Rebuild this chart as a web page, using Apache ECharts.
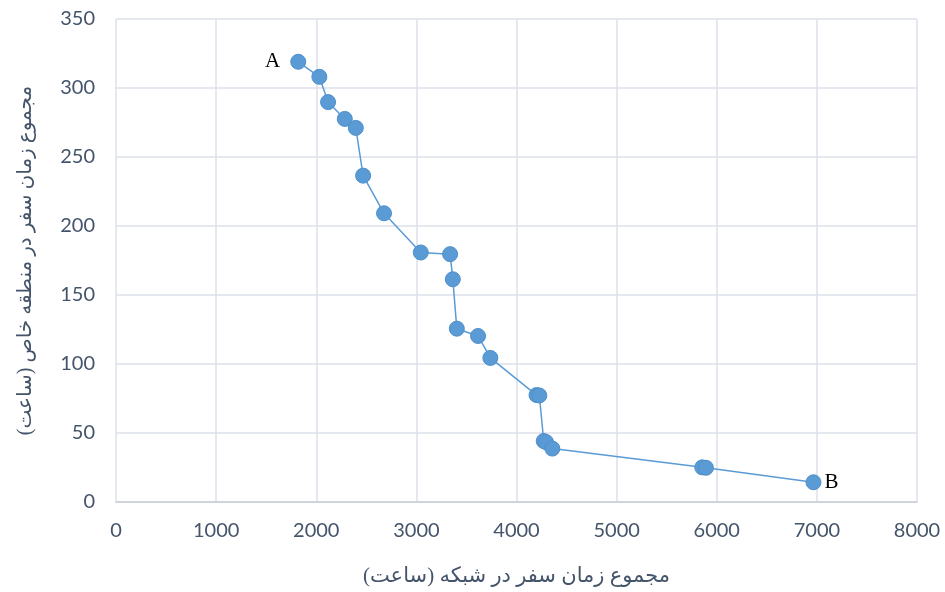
<!DOCTYPE html>
<html>
<head>
<meta charset="utf-8">
<script src="https://cdn.jsdelivr.net/npm/echarts@6/dist/echarts.min.js"></script>
<style>
html,body{margin:0;padding:0;background:#fff;}
#chart{width:945px;height:592px;}
</style>
</head>
<body>
<div id="chart"></div>
<script>
// Data
var networkTime = [1820, 2031, 2118, 2285, 2395, 2468, 2677, 3044, 3337, 3364, 3404, 3616, 3739, 4200, 4228, 4272, 4295, 4358, 5855, 5892, 6966];
var zoneTime    = [319, 308.1, 289.8, 277.6, 271.1, 236.5, 209.2, 180.8, 179.6, 161.4, 125.6, 120.3, 104.4, 77.5, 77.2, 44.2, 43.4, 38.7, 25.1, 24.8, 14.3];
var endLabels   = ['A', 'B'];
var xTitle = 'مجموع زمان سفر در شبکه (ساعت)';
var yTitle = 'مجموع زمان سفر در منطقه خاص (ساعت)';

var blue = '#5b9bd5';
var txt = '#44546a';
var gridCol = '#dde1e8';

var data = networkTime.map(function (x, i) {
  var item = { value: [x, zoneTime[i]] };
  if (i === 0) {
    item.label = { show: true, formatter: endLabels[0], position: 'left', distance: 10 };
  } else if (i === networkTime.length - 1) {
    item.label = { show: true, formatter: endLabels[1], position: 'right', distance: 3 };
  }
  return item;
});

var chart = echarts.init(document.getElementById('chart'), null, { renderer: 'canvas' });
chart.setOption({
  animation: false,
  backgroundColor: '#ffffff',
  grid: { left: 116, right: 28, top: 19, bottom: 81, containLabel: false },
  xAxis: {
    type: 'value', min: 0, max: 8000, interval: 1000,
    name: xTitle, nameLocation: 'middle', nameGap: 64,
    nameTextStyle: { color: txt, fontSize: 21, fontFamily: 'Times New Roman, Liberation Serif, DejaVu Sans, serif' },
    axisLine: { show: true, lineStyle: { color: '#c8cdd6', width: 1.5 } },
    axisTick: { show: false },
    axisLabel: { color: txt, fontSize: 20, fontFamily: 'Lato, Open Sans, sans-serif', margin: 19,
      formatter: function (v) { return String(v); } },
    splitLine: { show: true, lineStyle: { color: gridCol, width: 1.5 } }
  },
  yAxis: {
    type: 'value', min: 0, max: 350, interval: 50,
    name: yTitle, nameLocation: 'middle', nameGap: 80, nameRotate: 90,
    nameTextStyle: { color: txt, fontSize: 20, fontFamily: 'Times New Roman, Liberation Serif, DejaVu Sans, serif' },
    axisLine: { show: false },
    axisTick: { show: false },
    axisLabel: { color: txt, fontSize: 20, fontFamily: 'Lato, Open Sans, sans-serif', margin: 21,
      formatter: function (v) { return String(v); } },
    splitLine: { show: true, lineStyle: { color: gridCol, width: 1.5 } }
  },
  series: [{
    type: 'line',
    data: data,
    symbol: 'circle',
    symbolSize: 15,
    lineStyle: { color: blue, width: 1.5 },
    itemStyle: { color: blue, borderColor: '#4f8fcb', borderWidth: 1 },
    label: { show: false, color: '#000', fontSize: 21, fontFamily: 'Liberation Serif, Times New Roman, serif' },
    emphasis: { disabled: true },
    z: 3
  }]
});
</script>
</body>
</html>
